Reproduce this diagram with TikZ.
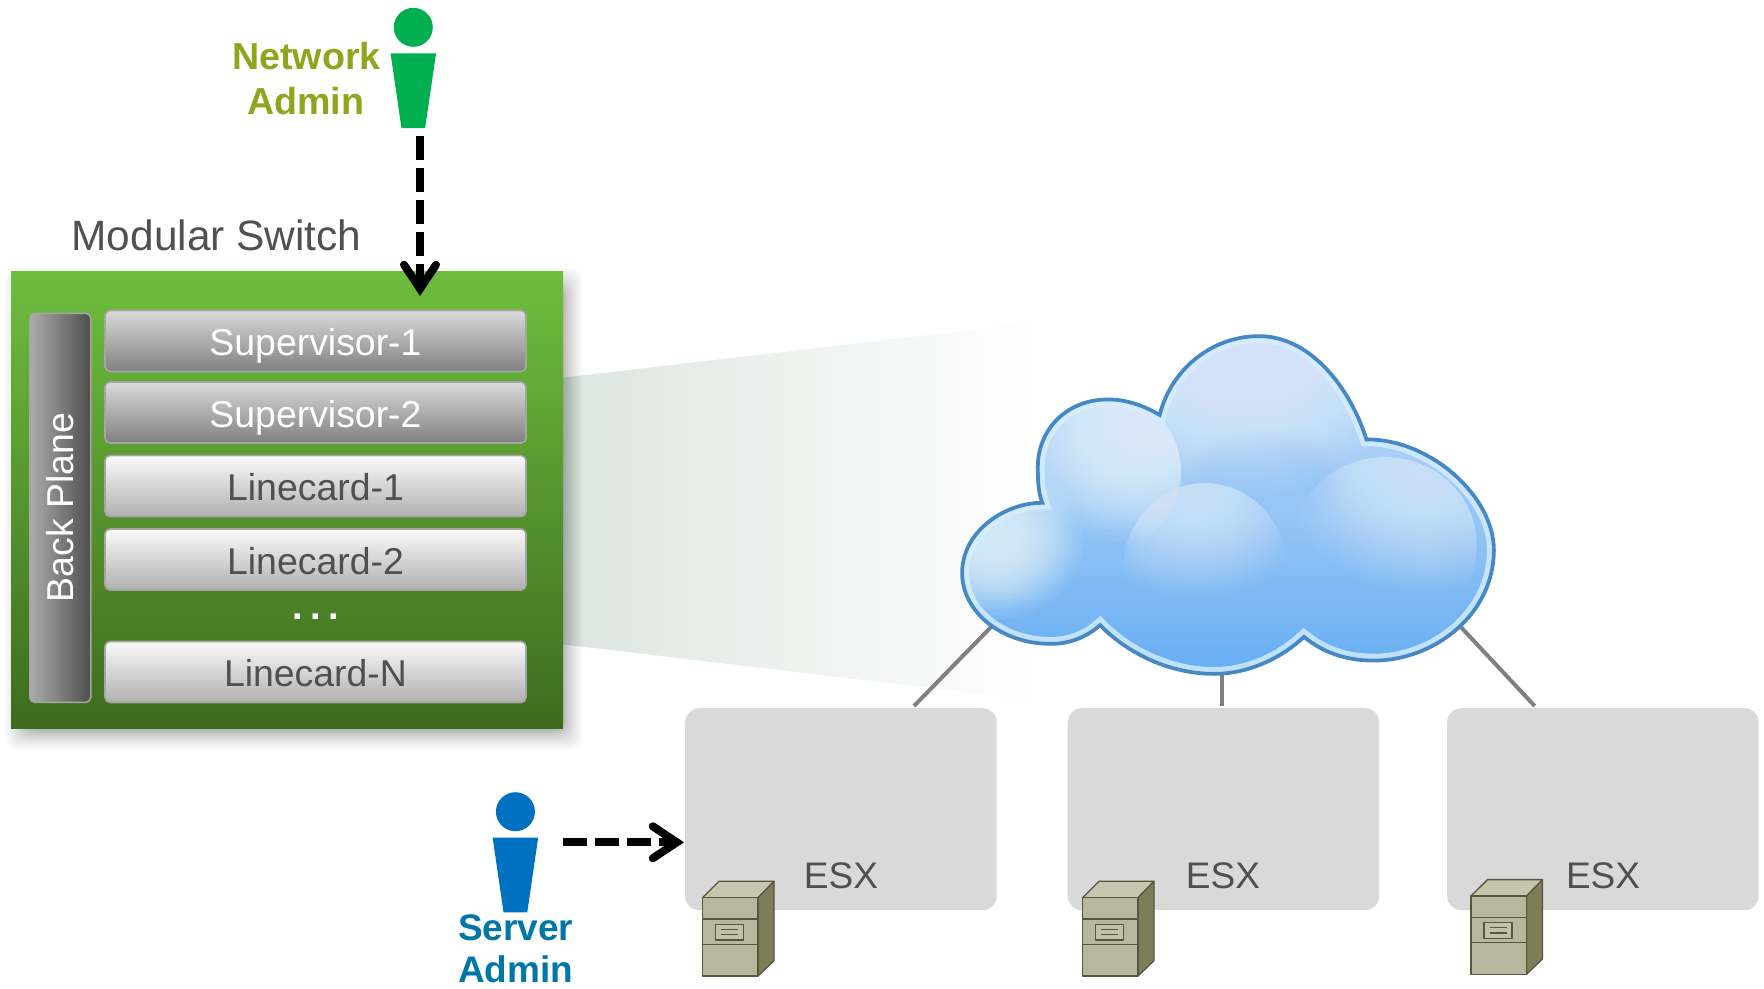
\documentclass[tikz,border=0pt]{standalone}
\usepackage{fontspec}
\setmainfont{Liberation Sans}
\usetikzlibrary{arrows.meta,calc}
\definecolor{olivetxt}{RGB}{143,165,30}
\definecolor{bluetxt}{RGB}{0,119,168}
\definecolor{netgreen}{RGB}{0,176,80}
\definecolor{srvblue}{RGB}{0,112,192}
\definecolor{txtgray}{RGB}{80,80,80}
\definecolor{esxgray}{RGB}{217,217,217}
\definecolor{srvfront}{RGB}{183,183,157}
\definecolor{srvtop}{RGB}{198,198,174}
\definecolor{srvside}{RGB}{125,125,90}
\definecolor{srvline}{RGB}{85,86,63}
\definecolor{rimdark}{RGB}{70,135,198}
\definecolor{rimlight}{RGB}{214,238,253}
\definecolor{cloudmid}{RGB}{150,197,246}
\definecolor{glow}{RGB}{236,250,255}
\newcommand{\cloudoutline}{(1040.8,501.7)
  .. controls (1005,502) and (961,530) .. (961,573)
  .. controls (961,612) and (1000,645) .. (1051,645)
  .. controls (1070,645) and (1087,638) .. (1100,626.7)
  .. controls (1128,655) and (1170,675) .. (1214,675)
  .. controls (1250,675) and (1283,658) .. (1304,638.3)
  .. controls (1322,653) and (1345,661.7) .. (1373.5,661.7)
  .. controls (1435,661.7) and (1495,615) .. (1495,550)
  .. controls (1495,495) and (1430,438) .. (1367.3,438.3)
  .. controls (1350,385) and (1310,335) .. (1259,335)
  .. controls (1210,335) and (1170,370) .. (1159,413.3)
  .. controls (1145,405) and (1127,398.3) .. (1108,398.3)
  .. controls (1065,398.3) and (1036.7,430) .. (1036.7,466.7)
  .. controls (1036.7,480) and (1037,492) .. (1040.8,501.7) -- cycle}
% soft bell-shaped blob: #1 x, #2 y, #3 rx, #4 ry, #5 colour, #6 opacity per layer
\newcommand{\softblob}[6]{%
  \foreach \k in {1,...,30}{%
    \pgfmathsetmacro{\rf}{sqrt(1-sqrt((\k-0.5)/30))}%
    \fill[#5,fill opacity=#6] (#1,#2) ellipse [x radius={#3*\rf}, y radius={#4*\rf}];
  }}
\tikzset{
  x=1pt,y=-1pt,
  f37/.style={font=\fontsize{37.4}{37.4}\selectfont},
  card/.style={draw=cardedge,line width=1.6pt,rounded corners=5pt,inner sep=0pt,minimum width=421pt,minimum height=61pt,
     anchor=center,text height=29.5pt,text depth=0pt,f37},
  supcard/.style={card,top color=supA,bottom color=supB,text=white},
  linecard/.style={card,top color=lineA,bottom color=lineB,text=txtgray},
  esxbox/.style={fill=esxgray,rounded corners=14pt,inner sep=0pt,minimum width=311.5pt,minimum height=202pt,anchor=north west},
  esxlabel/.style={font=\fontsize{37}{37}\selectfont,text=txtgray,anchor=base,inner sep=0pt},
  adminlabel/.style={font=\fontsize{37}{44}\selectfont\bfseries,align=center,inner sep=0pt,anchor=base},
  netlabelstyle/.style={font=\fontsize{37.6}{44}\selectfont\bfseries,align=center,inner sep=0pt,anchor=base},
  dashedarrow/.style={line width=8pt,dash pattern=on 24pt off 8pt,
     -{Straight Barb[length=24pt,width=32pt,line width=8pt,line cap=round,line join=miter]}},
  uplink/.style={draw=uplinkgray,line width=4pt},
  personfig/.pic={
    \fill[pic actions] (0,0) circle (19.5);
    \fill[pic actions] (-22.75,26) -- (22.75,26) -- (11.85,100.7) -- (-11.85,100.7) -- cycle;
  },
  serverbox/.pic={
    \begin{scope}[draw=srvline,line width=1.3pt,line join=round]
    \filldraw[fill=srvtop] (0,0) -- (16.5,-16.4) -- (71.5,-16.4) -- (55.5,0) -- cycle;
    \filldraw[fill=srvside] (55.5,0) -- (71.5,-16.4) -- (71.5,63) -- (55.5,78.3) -- cycle;
    \filldraw[fill=srvfront] (0,0) rectangle (55.5,78.3);
    \draw (0,21.3) -- (55.5,21.3) (0,46.6) -- (55.5,46.6);
    \filldraw[fill=srvtop!70!srvfront] (13,26.6) rectangle (41,42.3);
    \draw (18.5,31.6) -- (35.5,31.6) (18.5,37) -- (35.5,37);
    \end{scope}
  }
}
\definecolor{cardedge}{RGB}{165,165,165}
\definecolor{supA}{RGB}{218,218,218}
\definecolor{supB}{RGB}{128,128,128}
\definecolor{lineA}{RGB}{250,250,250}
\definecolor{lineB}{RGB}{176,176,176}
\definecolor{uplinkgray}{RGB}{128,128,128}
\begin{document}
\begin{tikzpicture}
\useasboundingbox (0,0) rectangle (1764,988);
\fill[white] (0,0) rectangle (1764,988);

% light beam from the switch to the cloud
\shade[left color={rgb,255:red,220;green,230;blue,224},right color=white]
  (560,378) -- (1040,322) -- (1040,701) -- (560,644) -- cycle;

% soft shadow of the switch
\foreach \k in {0,...,29}{
  \pgfmathsetmacro{\ins}{24*(1-(1-\k/30)*(1-\k/30))}
  \fill[black,fill opacity=0.016,rounded corners=12pt]
    ({11-6+\ins},{271-3+\ins}) rectangle ({563+20-\ins},{728+22-\ins});
}

% switch body
\node[inner sep=0pt,minimum width=552pt,minimum height=457pt,anchor=north west,
   top color={rgb,255:red,110;green,190;blue,62},bottom color={rgb,255:red,62;green,107;blue,30}] (switch) at (11,271) {};
\node[font=\fontsize{42.4}{42.4}\selectfont,text=txtgray,anchor=base,inner sep=0pt] (switchlabel) at (216.5,250) {Modular Switch};

% back plane
\node[draw=cardedge,line width=1.6pt,rounded corners=5pt,inner sep=0pt,minimum width=61pt,minimum height=389pt,anchor=north west,
   left color={rgb,255:red,172;green,172;blue,172},right color={rgb,255:red,78;green,78;blue,78}] (backplane) at (29,312.5) {};
\node[rotate=90,anchor=base,f37,text=white,inner sep=0pt] (backlabel) at (73.5,507.5) {Back Plane};

% cards
\node[supcard] (sup1) at (315.5,341) {Supervisor-1};
\node[supcard] (sup2) at (315.5,412.5) {Supervisor-2};
\node[linecard] (lc1) at (315.5,486) {Linecard-1};
\node[linecard] (lc2) at (315.5,559.5) {Linecard-2};
\node[linecard] (lcn) at (315.5,672) {Linecard-N};
\node[font=\fontsize{38}{38}\selectfont\bfseries,text=white,anchor=base,inner sep=0pt] (dots) at (315.7,619) {.\kern7.4pt.\kern7.4pt.};

% ESX hosts
\node[esxbox] (esx1) at (685,708) {};
\node[esxbox] (esx2) at (1067.5,708) {};
\node[esxbox] (esx3) at (1447,708) {};
\node[esxlabel] (esxl1) at (841,888) {ESX};
\node[esxlabel] (esxl2) at (1223,888) {ESX};
\node[esxlabel] (esxl3) at (1603,888) {ESX};

% uplinks
\coordinate (cl1) at (994,624);
\coordinate (cl2) at (1222.4,670);
\coordinate (cl3) at (1458,624);
\coordinate (up1) at (914,706);
\coordinate (up2) at (1222.4,706);
\coordinate (up3) at (1534.7,706);
\draw[uplink] (cl1) -- (up1);
\draw[uplink] (cl2) -- (up2);
\draw[uplink] (cl3) -- (up3);

% cloud
\begin{scope}
  \clip \cloudoutline;
  \shade[top color={rgb,255:red,205;green,226;blue,250},middle color={rgb,255:red,176;green,212;blue,249},bottom color={rgb,255:red,100;green,172;blue,242}] (955,330) rectangle (1500,680);
  % depth between the lobes
  \softblob{1265}{480}{85}{65}{cloudmid}{0.03}
  % top lobe
  \softblob{1245}{375}{165}{130}{glow}{0.04}
  % upper-left lobe
  \begin{scope}
    \clip (1108,472) ellipse [x radius=73,y radius=78];
    \softblob{1135}{440}{130}{110}{glow}{0.05}
  \end{scope}
  % left lobe
  \softblob{995}{540}{95}{85}{glow}{0.055}
  % centre lobe
  \begin{scope}
    \clip (1205,570) ellipse [x radius=82,y radius=87];
    \softblob{1195}{495}{125}{110}{glow}{0.034}
  \end{scope}
  % right lobe
  \begin{scope}
    \clip (1385,545) ellipse [x radius=92,y radius=88];
    \softblob{1425}{480}{145}{120}{glow}{0.036}
  \end{scope}
  % rims
  \draw[rimlight,line width=16pt,opacity=.8] \cloudoutline;
  \draw[rimdark,line width=6pt] \cloudoutline;
\end{scope}
\draw[rimdark,line width=1.5pt] \cloudoutline;

% servers
\pic (srv1) at (702.5,897.7) {serverbox};
\pic (srv2) at (1082.5,897.7) {serverbox};
\pic (srv3) at (1471,896) {serverbox};

% admins
\pic[fill=netgreen] (netadm) at (413.3,27.3) {personfig};
\pic[fill=srvblue] (srvadm) at (515.4,811.7) {personfig};
\node[netlabelstyle,text=olivetxt] (netlabel1) at (306.5,69) {Network};
\node[netlabelstyle,text=olivetxt] (netlabel2) at (305.5,114.3) {Admin};
\node[adminlabel,text=bluetxt] (srvlabel1) at (515.6,940) {Server};
\node[adminlabel,text=bluetxt] (srvlabel2) at (515.6,982.7) {Admin};

% admin arrows
\coordinate (netfrom) at (420,136);
\coordinate (netto) at (420,296);
\coordinate (srvfrom) at (562.5,842.3);
\coordinate (srvto) at (684,842.3);
\draw[dashedarrow] (netfrom) -- (netto);
\draw[dashedarrow] (srvfrom) -- (srvto);
\end{tikzpicture}
\end{document}
